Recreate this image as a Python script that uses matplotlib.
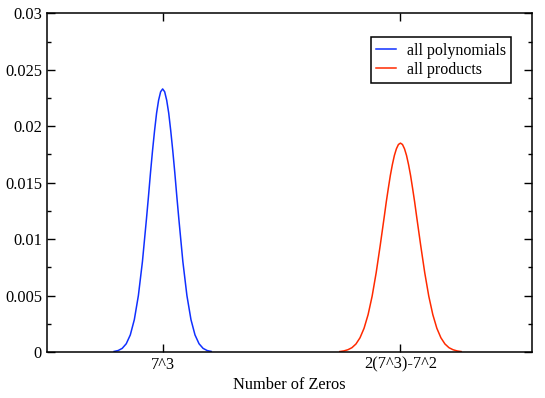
import matplotlib.pyplot as plt
from matplotlib.ticker import MultipleLocator, FuncFormatter

# values
poly_x = [283, 288, 293, 298, 303, 308, 313, 318, 323, 325.5, 328, 330.5, 333, 335.5,
          338, 340.5, 343, 345.5, 348, 350.5, 353, 355.5, 358, 360.5, 363, 368, 373,
          378, 383, 388, 393, 398, 403]
poly_y = [0.00005, 0.00013, 0.00032, 0.00073, 0.00151, 0.00287, 0.0050, 0.0080,
          0.0118, 0.0138, 0.0159, 0.01784, 0.0196, 0.02116, 0.0223, 0.02305, 0.0233,
          0.02305, 0.0223, 0.02116, 0.0196, 0.01784, 0.0159, 0.0138, 0.0118, 0.0080,
          0.0050, 0.00287, 0.00151, 0.00073, 0.00032, 0.00013, 0.00005]

prod_x = [562, 567, 572, 577, 582, 587, 592, 597, 602, 607, 612, 617, 619.5, 622,
          624.5, 627, 629.5, 632, 634.5, 637, 639.5, 642, 644.5, 647, 649.5, 652,
          654.5, 657, 662, 667, 672, 677, 682, 687, 692, 697, 702, 707, 712]
prod_y = [0.00004, 0.000095, 0.00020, 0.00038, 0.00071, 0.00126, 0.00210, 0.00331,
          0.00495, 0.00703, 0.00945, 0.0120, 0.01331, 0.0145, 0.01564, 0.0166,
          0.01741, 0.0180, 0.01838, 0.0185, 0.01838, 0.0180, 0.01741, 0.0166,
          0.01564, 0.0145, 0.01331, 0.0120, 0.00945, 0.00703, 0.00495, 0.00331,
          0.00210, 0.00126, 0.00071, 0.00038, 0.00020, 0.000095, 0.00004]

xticks = [343, 637]
xticklabels = ['7^3', '2(7^3)-7^2']

plt.rcParams['font.family'] = ['Liberation Serif', 'DejaVu Serif']

fig = plt.figure(figsize=(5.45, 3.98), dpi=100)
ax = fig.add_axes([0.0862, 0.1156, 0.8905, 0.851])

ax.plot(poly_x, poly_y, color='#1030ff', lw=1.1, label='all polynomials')
ax.plot(prod_x, prod_y, color='#ff2a00', lw=1.1, label='all products')

ax.set_xlim(200, 800)
ax.set_ylim(0, 0.03)
ax.set_xticks(xticks)
ax.set_xticklabels(xticklabels)
ax.yaxis.set_major_locator(MultipleLocator(0.005))
ax.yaxis.set_minor_locator(MultipleLocator(0.0025))
ax.yaxis.set_major_formatter(FuncFormatter(lambda v, p: '0' if abs(v) < 1e-9 else ('%g' % round(v, 4))))
ax.tick_params(which='both', direction='in', top=True, right=True, labelsize=11.8, width=1)
ax.tick_params(which='major', length=6)
ax.tick_params(which='minor', length=3)
for s in ax.spines.values():
    s.set_linewidth(1.1)

ax.set_xlabel('Number of Zeros', fontsize=11.8, labelpad=3)

leg = ax.legend(loc='upper right', bbox_to_anchor=(0.957, 0.93), borderaxespad=0,
                fontsize=11.5, fancybox=False, framealpha=1, edgecolor='black',
                handlelength=1.2, handletextpad=0.7, borderpad=0.35, labelspacing=0.2)
leg.get_frame().set_linewidth(1.1)

fig.savefig('out.png', dpi=100)
